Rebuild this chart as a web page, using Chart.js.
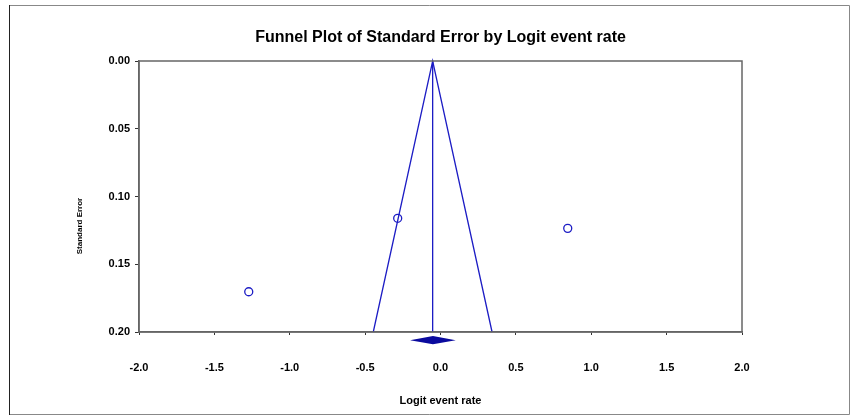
<!DOCTYPE html>
<html>
<head>
<meta charset="utf-8">
<script src="https://cdn.jsdelivr.net/npm/chart.js@4/dist/chart.umd.min.js"></script>
<style>
  html, body { margin: 0; padding: 0; background: #fff; }
  #wrap { width: 858px; height: 420px; }
</style>
</head>
<body>
<div id="wrap"><canvas id="chart" width="858" height="420"></canvas></div>
<script>
// studies (logit event rate vs standard error)
const studyLogit = [-0.284, 0.844, -1.272];
const studySE = [0.1161, 0.1235, 0.1703];

// funnel limits and pooled estimate line
const funnelX = [-0.446, -0.052, 0.342];
const funnelY = [0.2, 0, 0.2];
const pooledX = [-0.052, -0.052];
const pooledY = [0, 0.2];

// summary diamond under the axis
const diamondX = [-0.202, -0.05, 0.101, -0.05];
const diamondY = [0.206, 0.203, 0.206, 0.209];

const yTitle = "Standard Error";

const blue = "#1c1cc4";
const font = "'Liberation Sans', Arial, sans-serif";

const toPoints = (xs, ys) => xs.map((x, i) => ({ x: x, y: ys[i] }));

// frame, plot box, diamond and y title (centred lower than the axis, like the original)
const extras = {
  id: "extras",
  afterDatasetsDraw(chart) {
    const { ctx, chartArea: a, scales } = chart;
    ctx.save();
    ctx.strokeStyle = "#666";
    ctx.lineWidth = 1.5;
    ctx.strokeRect(a.left, a.top, a.right - a.left, a.bottom - a.top);

    ctx.beginPath();
    diamondX.forEach((x, i) => {
      const px = scales.x.getPixelForValue(x);
      const py = scales.y.getPixelForValue(diamondY[i]);
      if (i === 0) ctx.moveTo(px, py);
      else ctx.lineTo(px, py);
    });
    ctx.closePath();
    ctx.fillStyle = "#0a0a9e";
    ctx.fill();

    ctx.translate(80, 226);
    ctx.rotate(-Math.PI / 2);
    ctx.fillStyle = "#000";
    ctx.font = "bold 8px " + font;
    ctx.textAlign = "center";
    ctx.textBaseline = "middle";
    ctx.fillText(yTitle, 0, 0);
    ctx.restore();
  },
  beforeDraw(chart) {
    const ctx = chart.ctx;
    ctx.save();
    ctx.lineWidth = 1;
    ctx.strokeStyle = "#888";
    ctx.beginPath();
    ctx.moveTo(9, 5.5);
    ctx.lineTo(849.5, 5.5);
    ctx.lineTo(849.5, 414.5);
    ctx.lineTo(9, 414.5);
    ctx.stroke();
    ctx.strokeStyle = "#222";
    ctx.beginPath();
    ctx.moveTo(9.5, 5);
    ctx.lineTo(9.5, 415);
    ctx.stroke();
    ctx.restore();
  },
};

new Chart(document.getElementById("chart"), {
  type: "scatter",
  data: {
    datasets: [
      {
        data: toPoints(funnelX, funnelY),
        showLine: true,
        borderColor: blue,
        borderWidth: 1.3,
        pointRadius: 0,
        clip: false,
      },
      {
        data: toPoints(pooledX, pooledY),
        showLine: true,
        borderColor: blue,
        borderWidth: 1.3,
        pointRadius: 0,
      },
      {
        data: toPoints(studyLogit, studySE),
        pointStyle: "circle",
        pointRadius: 4,
        pointBorderWidth: 1.3,
        borderColor: blue,
        backgroundColor: "#fff",
      },
    ],
  },
  options: {
    responsive: false,
    animation: false,
    devicePixelRatio: 1,
    layout: { padding: { left: 39, right: 116, top: 0, bottom: 8 } },
    plugins: {
      legend: { display: false },
      tooltip: { enabled: false },
      title: {
        display: true,
        fullSize: false,
        text: "Funnel Plot of Standard Error by Logit event rate",
        color: "#000",
        font: { family: font, size: 16, weight: "bold", lineHeight: 1.2 },
        padding: { top: 28, bottom: 13.8 },
      },
    },
    scales: {
      x: {
        type: "linear",
        min: -2,
        max: 2,
        afterFit: (s) => { s.height = 80; },
        ticks: {
          stepSize: 0.5,
          padding: 26,
          color: "#000",
          font: { family: font, size: 11, weight: "bold" },
          callback: (v) => v.toFixed(1),
        },
        grid: { drawOnChartArea: false, tickLength: 3, color: "#333" },
        border: { color: "#666", width: 1.5 },
        title: {
          display: true,
          text: "Logit event rate",
          color: "#000",
          font: { family: font, size: 11, weight: "bold" },
          padding: { top: 4, bottom: 4 },
        },
      },
      y: {
        type: "linear",
        reverse: true,
        min: 0,
        max: 0.2,
        afterFit: (s) => { s.width = 100; },
        ticks: {
          stepSize: 0.05,
          padding: 5,
          color: "#000",
          font: { family: font, size: 11, weight: "bold" },
          callback: (v) => v.toFixed(2),
        },
        grid: { drawOnChartArea: false, tickLength: 4, color: "#333" },
        border: { color: "#666", width: 1.5 },
      },
    },
  },
  plugins: [extras],
});
</script>
</body>
</html>
